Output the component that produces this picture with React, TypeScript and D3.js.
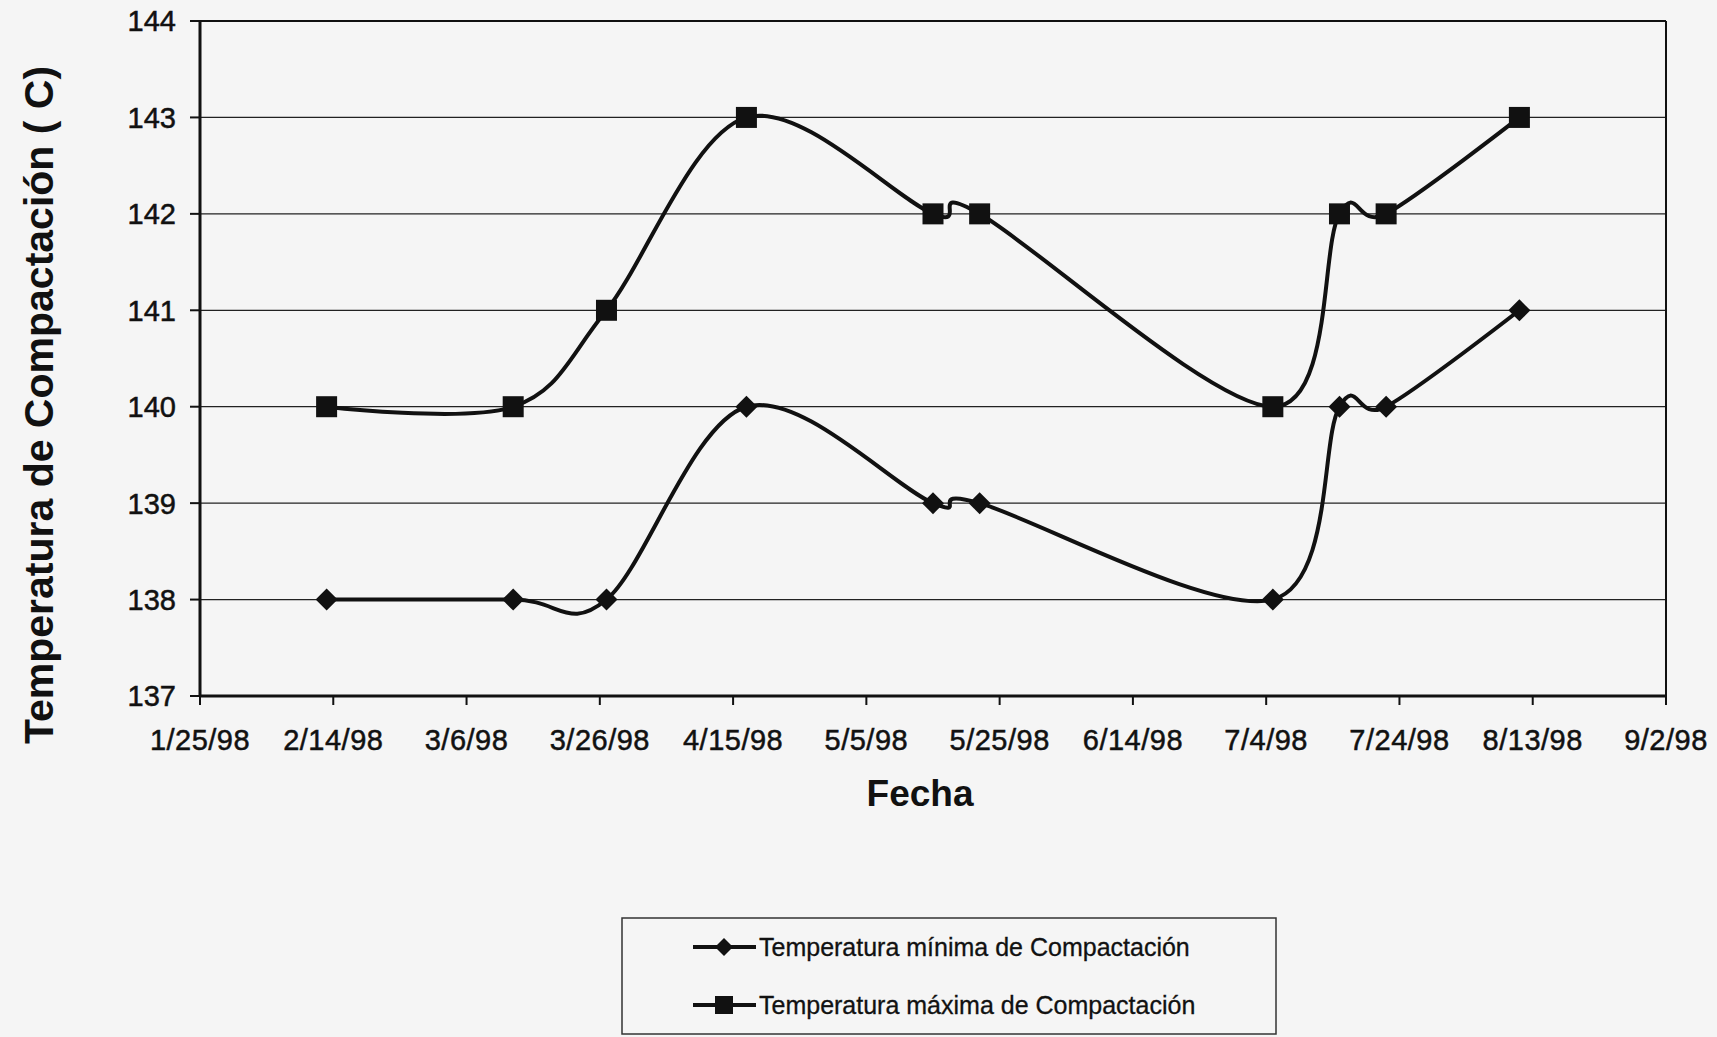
import * as d3 from "d3"

// fechas de muestreo (m/d/yy)
const fechas = ["2/13/98", "3/13/98", "3/27/98", "4/17/98", "5/15/98", "5/22/98", "7/5/98", "7/15/98", "7/22/98", "8/11/98"]
const tempMinima = [138, 138, 138, 140, 139, 139, 138, 140, 140, 141]
const tempMaxima = [140, 140, 141, 143, 142, 142, 140, 142, 142, 143]

const xTickLabels = ["1/25/98", "2/14/98", "3/6/98", "3/26/98", "4/15/98", "5/5/98", "5/25/98", "6/14/98", "7/4/98", "7/24/98", "8/13/98", "9/2/98"]
const yTickValues = [137, 138, 139, 140, 141, 142, 143, 144]

const nombreMin = "Temperatura mínima de Compactación"
const nombreMax = "Temperatura máxima de Compactación"

const W = 1717
const H = 1037
const margin = { top: 21, right: 51, bottom: 341, left: 200 }
const FONT = "'Liberation Sans', Arial, sans-serif"

const parse = d3.utcParse("%m/%d/%y")

const Diamond = ({ x, y, r }: { x: number; y: number; r: number }) => (
  <path d={`M${x},${y - r}L${x + r},${y}L${x},${y + r}L${x - r},${y}Z`} fill="#111" />
)
const Square = ({ x, y, s }: { x: number; y: number; s: number }) => (
  <rect x={x - s / 2} y={y - s / 2} width={s} height={s} fill="#111" />
)

const App = () => {
  const width = W - margin.left - margin.right
  const height = H - margin.top - margin.bottom

  const x = d3
    .scaleUtc()
    .domain([parse(xTickLabels[0])!, parse(xTickLabels[xTickLabels.length - 1])!])
    .range([0, width])
  const y = d3.scaleLinear().domain([137, 144]).range([height, 0])

  const fechasD = fechas.map((f) => parse(f)!)
  const ptsMin = fechasD.map((d, i) => [x(d), y(tempMinima[i])] as [number, number])
  const ptsMax = fechasD.map((d, i) => [x(d), y(tempMaxima[i])] as [number, number])

  // suavizado tipo Excel
  const line = d3.line().curve(d3.curveCardinal.tension(0))

  return (
    <svg width={W} height={H} style={{ position: "absolute", left: 0, top: 0, background: "#f5f5f5" }} fontFamily={FONT}>
      <g transform={`translate(${margin.left},${margin.top})`}>
        {/* grid */}
        {yTickValues.slice(1, -1).map((v) => (
          <line key={v} x1={0} x2={width} y1={y(v)} y2={y(v)} stroke="#222" strokeWidth={1.3} />
        ))}
        {/* marco */}
        <line x1={0} x2={width} y1={0} y2={0} stroke="#111" strokeWidth={2} />
        <line x1={width} x2={width} y1={0} y2={height} stroke="#111" strokeWidth={2} />
        <line x1={0} x2={0} y1={0} y2={height} stroke="#111" strokeWidth={3} />
        <line x1={0} x2={width} y1={height} y2={height} stroke="#111" strokeWidth={3} />

        {/* eje y */}
        {yTickValues.map((v) => (
          <g key={v} transform={`translate(0,${y(v)})`}>
            <line x1={-10} x2={0} stroke="#111" strokeWidth={2} />
            <text x={-24} dy="0.36em" textAnchor="end" fontSize={29} fill="#111" stroke="#111" strokeWidth={0.5}>
              {v}
            </text>
          </g>
        ))}

        {/* eje x */}
        {xTickLabels.map((t) => (
          <g key={t} transform={`translate(${x(parse(t)!)},${height})`}>
            <line y1={0} y2={9} stroke="#111" strokeWidth={2} />
            <text y={54} textAnchor="middle" fontSize={29} fill="#111" stroke="#111" strokeWidth={0.5} letterSpacing={0.5}>
              {t}
            </text>
          </g>
        ))}

        {/* series */}
        <path d={line(ptsMax)!} fill="none" stroke="#111" strokeWidth={4} />
        <path d={line(ptsMin)!} fill="none" stroke="#111" strokeWidth={4} />
        {ptsMax.map(([px, py], i) => (
          <Square key={i} x={px} y={py} s={21} />
        ))}
        {ptsMin.map(([px, py], i) => (
          <Diamond key={i} x={px} y={py} r={11} />
        ))}

        {/* titulos */}
        <text
          transform={`translate(${38 - margin.left},${405 - margin.top}) rotate(-90)`}
          textAnchor="middle"
          dy="0.36em"
          fontSize={41}
          fontWeight="bold"
          fill="#111"
        >
          Temperatura de Compactación ( C)
        </text>
        <text x={920 - margin.left} y={806 - margin.top} textAnchor="middle" fontSize={37} fontWeight="bold" fill="#111">
          Fecha
        </text>
      </g>

      {/* leyenda */}
      <g>
        <rect x={622} y={918} width={654} height={116} fill="none" stroke="#333" strokeWidth={1.5} />
        <g transform="translate(0,947)">
          <line x1={693} x2={756} stroke="#111" strokeWidth={4} />
          <Diamond x={724} y={0} r={9} />
          <text x={759} dy="0.36em" fontSize={25} fill="#111" stroke="#111" strokeWidth={0.3}>
            {nombreMin}
          </text>
        </g>
        <g transform="translate(0,1005)">
          <line x1={693} x2={756} stroke="#111" strokeWidth={4} />
          <Square x={724} y={0} s={18} />
          <text x={759} dy="0.36em" fontSize={25} fill="#111" stroke="#111" strokeWidth={0.3}>
            {nombreMax}
          </text>
        </g>
      </g>
    </svg>
  )
}

export default App
